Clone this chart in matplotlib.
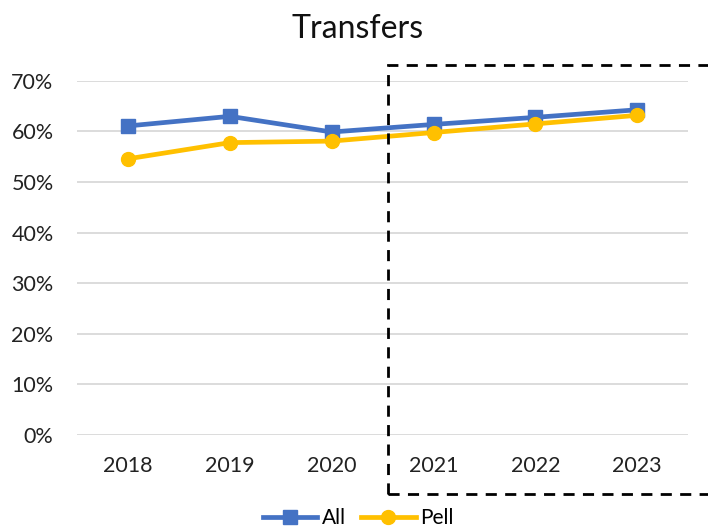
import matplotlib
matplotlib.use('Agg')
import matplotlib.pyplot as plt
from matplotlib.patches import Rectangle
from matplotlib.ticker import PercentFormatter

years = ['2018', '2019', '2020', '2021', '2022', '2023']
all_vals = [0.611, 0.630, 0.599, 0.614, 0.628, 0.643]
pell_vals = [0.546, 0.578, 0.581, 0.598, 0.615, 0.632]
yticks = [0, 0.1, 0.2, 0.3, 0.4, 0.5, 0.6, 0.7]

plt.rcParams['font.family'] = ['Lato', 'DejaVu Sans']

fig = plt.figure(figsize=(7.08, 5.29), dpi=100)
ax = fig.add_axes([0.109, 0.178, 0.863, 0.669])

x = range(len(years))
ax.plot(x, all_vals, color='#4472C4', linewidth=3.4, marker='s', markersize=10, label='All')
ax.plot(x, pell_vals, color='#FFC000', linewidth=3.4, marker='o', markersize=10, label='Pell')

ax.set_xlim(-0.5, len(years) - 0.5)
ax.set_ylim(0, 0.7)
ax.set_yticks(yticks)
ax.yaxis.set_major_formatter(PercentFormatter(1.0, decimals=0))
ax.set_xticks(list(x))
ax.set_xticklabels(years)
ax.tick_params(length=0, labelsize=15.5, colors='#222222')
ax.tick_params(axis='x', pad=15)
ax.tick_params(axis='y', pad=17)
ax.grid(axis='y', color='#d9d9d9', linewidth=1.3)
ax.set_axisbelow(True)
for s in ax.spines.values():
    s.set_visible(False)

fig.text(0.505, 0.945, 'Transfers', ha='center', va='center', fontsize=23, color='#111111')

# dashed box marking recent years
fig.patches.append(Rectangle((0.548, 0.066), 0.47, 0.811, transform=fig.transFigure,
                             fill=False, edgecolor='black', linestyle=(0, (4, 3)),
                             linewidth=2, clip_on=False))

ax.legend(loc='center', bbox_to_anchor=(0.46, -0.235), ncol=2, frameon=False,
          fontsize=15, handlelength=2.6, handletextpad=0.2, columnspacing=0.75,
          borderaxespad=0)

fig.savefig('out.png', dpi=100)
